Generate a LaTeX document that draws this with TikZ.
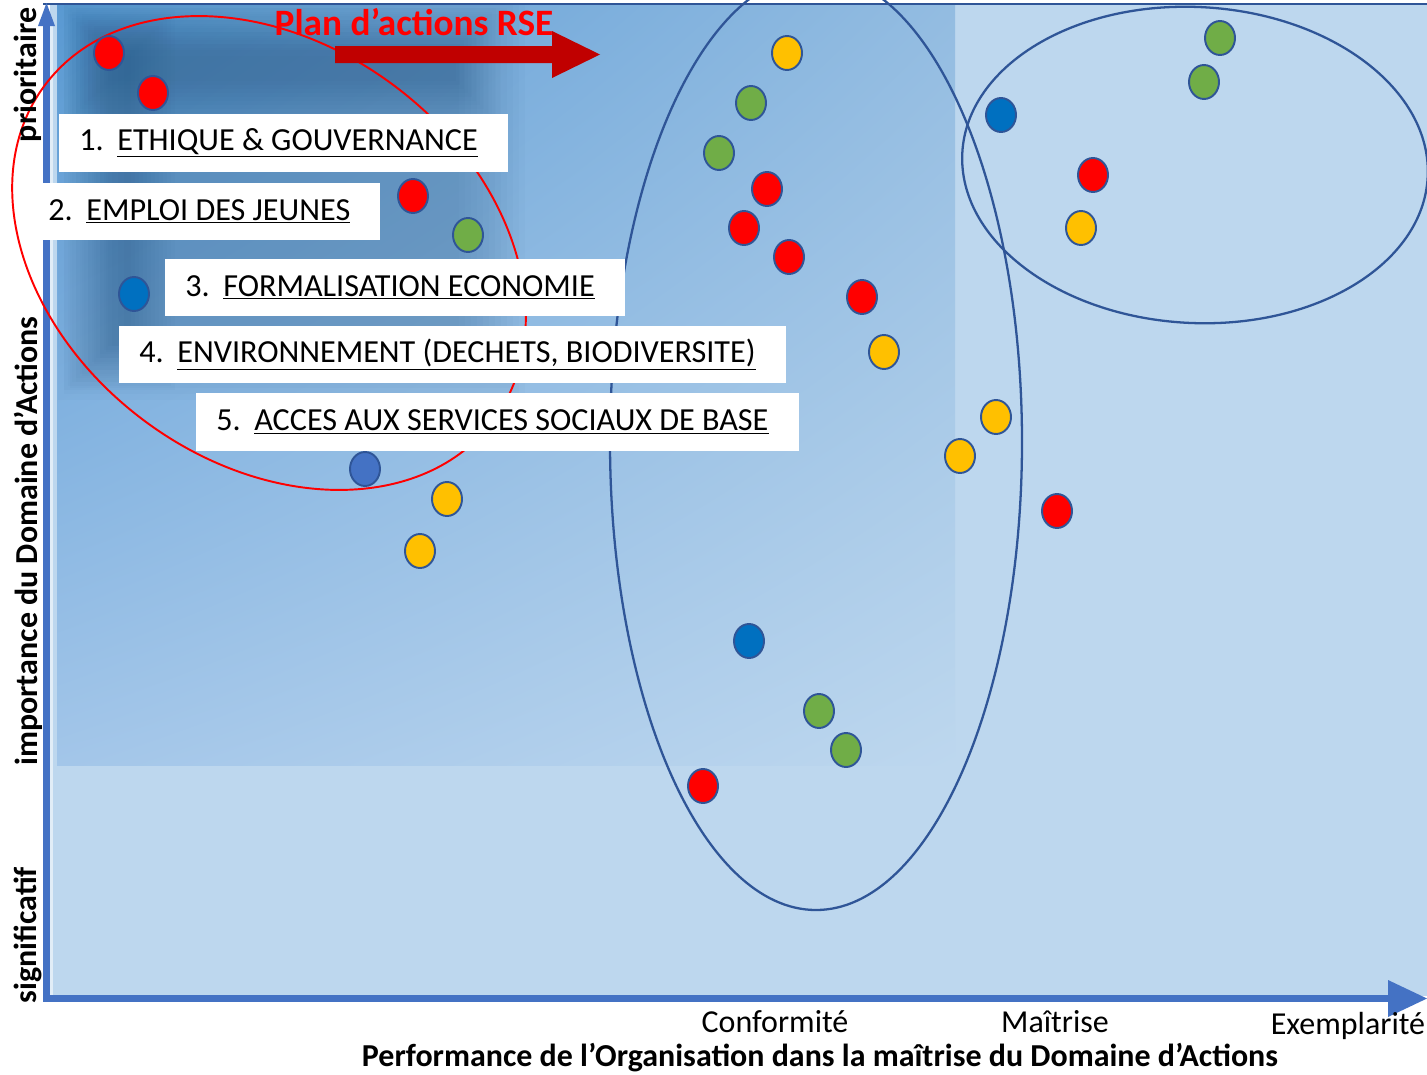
\documentclass[tikz,border=0pt]{standalone}
\usepackage{fontspec}
\setmainfont{Carlito}
\usetikzlibrary{shapes.geometric,shadings}
\definecolor{fond}{HTML}{BDD7EE}
\definecolor{fondhg}{HTML}{5B9BD5}
\definecolor{fondhd}{HTML}{93BCE1}
\definecolor{fondbg}{HTML}{A3C6E9}
\definecolor{axe}{HTML}{4472C4}
\definecolor{trait}{HTML}{2F5597}
\definecolor{rouge}{HTML}{FF0000}
\definecolor{rougefonce}{HTML}{C00000}
\definecolor{jaune}{HTML}{FFC000}
\definecolor{vert}{HTML}{70AD47}
\definecolor{bleu}{HTML}{0070C0}
\definecolor{bleugris}{HTML}{4472C4}
\definecolor{ombre}{HTML}{1F4E79}
% #1 marge gauche, #2 numero, #3 libelle
\newcommand{\numitem}[3]{\kern#1\makebox[0.76cm][l]{#2.}\underline{#3}\kern0.6cm}
% ombre floue : coins, pas, opacite
\newcommand{\flou}[6]{\foreach \k in {0,...,11}
  \fill[ombre, opacity=#6] (#1+#5*\k,#2+#5*\k) rectangle (#3-#5*\k,#4-#5*\k);}

\begin{document}
\begin{tikzpicture}[x=0.02cm, y=-0.02cm,
  dot/.style={ellipse, draw=trait, line width=1.1pt, minimum width=0.6cm, minimum height=0.68cm, inner sep=0pt},
  itembox/.style={fill=white, anchor=west, minimum height=1.16cm, inner xsep=0pt, inner ysep=0pt, font=\fontsize{18.3}{20}\selectfont},
  axislabel/.style={font=\fontsize{18.2}{20}\selectfont\bfseries, rotate=90},
  levellabel/.style={font=\fontsize{18.2}{20}\selectfont}]
\useasboundingbox (0,0) rectangle (1427,1075);
% fond du graphique
\fill[fond] (50,4) rectangle (1427,996);
\shade[upper left=fondhg, upper right=fondhd, lower left=fondbg, lower right=fond] (57,4) rectangle (955,765);
\begin{scope}
\clip (57,4) rectangle (955,765);
\flou{58}{-10}{525}{400}{6}{0.025}
\flou{64}{10}{175}{390}{4}{0.025}
\flou{64}{4}{500}{125}{4}{0.025}
\end{scope}
\fill[white!55!fond] (50,25) rectangle (53,995);
\draw[trait, line width=0.8pt] (43,4) -- (1427,4);
% axes
\fill[axe] (43,1002) rectangle (50,24);
\fill[axe] (38,26) -- (46.5,3) -- (55,26) -- cycle;
\fill[axe] (43,995) rectangle (1390,1002);
\fill[axe] (1388,980) -- (1427,998.5) -- (1388,1017) -- cycle;
% regroupements
\begin{scope}
\clip (0,0) rectangle (1427,1075);
\draw[rouge, line width=1.1pt, rotate around={-36.8:(269,253)}] (269,253) ellipse [x radius=280, y radius=209];
\draw[trait, line width=1.3pt] (816,442) ellipse [x radius=206, y radius=468];
\draw[trait, line width=1.3pt, rotate around={-3:(1195,165)}] (1195,165) ellipse [x radius=233, y radius=158];
\end{scope}
% plan d'actions
\fill[rougefonce] (335,46) -- (552,46) -- (552,31) -- (600,54.5) -- (552,78) -- (552,63) -- (335,63) -- cycle;
\node[font=\fontsize{21.2}{24}\selectfont\bfseries, text=rouge] (plan) at (414,22) {Plan d’actions RSE};
% domaines prioritaires
\node[itembox] (item1) at (59,143) {\numitem{0.4cm}{1}{ETHIQUE \& GOUVERNANCE}};
\node[itembox] (item2) at (43,211.5) {\numitem{0.1cm}{2}{EMPLOI DES JEUNES}};
\node[itembox] (item3) at (165,287.5) {\numitem{0.4cm}{3}{FORMALISATION ECONOMIE}};
\node[itembox] (item4) at (119,354.5) {\numitem{0.4cm}{4}{ENVIRONNEMENT (DECHETS, BIODIVERSITE)}};
\node[itembox] (item5) at (196,422) {\numitem{0.4cm}{5}{ACCES AUX SERVICES SOCIAUX DE BASE}};
% points
\node[dot, fill=rouge] (r1) at (109,53) {};
\node[dot, fill=rouge] (r2) at (153,93) {};
\node[dot, fill=rouge] (r3) at (413,196) {};
\node[dot, fill=rouge] (r4) at (767,189) {};
\node[dot, fill=rouge] (r5) at (744,228) {};
\node[dot, fill=rouge] (r6) at (789,257) {};
\node[dot, fill=rouge] (r7) at (862,297) {};
\node[dot, fill=rouge] (r8) at (1093,175) {};
\node[dot, fill=rouge] (r9) at (1057,511) {};
\node[dot, fill=rouge] (r10) at (703,786) {};
\node[dot, fill=vert] (g1) at (468,235) {};
\node[dot, fill=vert] (g2) at (751,103) {};
\node[dot, fill=vert] (g3) at (719,153) {};
\node[dot, fill=vert] (g4) at (1220,38) {};
\node[dot, fill=vert] (g5) at (1204,82) {};
\node[dot, fill=vert] (g6) at (819,711) {};
\node[dot, fill=vert] (g7) at (846,750) {};
\node[dot, fill=jaune] (y1) at (787,53) {};
\node[dot, fill=jaune] (y2) at (884,352) {};
\node[dot, fill=jaune] (y3) at (996,417) {};
\node[dot, fill=jaune] (y4) at (960,456) {};
\node[dot, fill=jaune] (y5) at (1081,228) {};
\node[dot, fill=jaune] (y6) at (447,499) {};
\node[dot, fill=jaune] (y7) at (420,551) {};
\node[dot, fill=bleu] (b1) at (134,294) {};
\node[dot, fill=bleu] (b2) at (1001,115) {};
\node[dot, fill=bleu] (b3) at (749,641) {};
\node[dot, fill=bleugris] (b4) at (365,469) {};
% libelles des axes
\node[axislabel] (prio) at (28,75) {prioritaire};
\node[axislabel] (impo) at (28,541) {importance du Domaine d’Actions};
\node[axislabel] (signif) at (28,935) {significatif};
\node[levellabel] (conf) at (775,1022) {Conformité};
\node[levellabel] (maitrise) at (1055,1022) {Maîtrise};
\node[levellabel] (exemp) at (1348,1026) {Exemplarité};
\node[levellabel, font=\fontsize{18.2}{20}\selectfont\bfseries] (perf) at (820,1058) {Performance de l’Organisation dans la maîtrise du Domaine d’Actions};
\end{tikzpicture}
\end{document}
